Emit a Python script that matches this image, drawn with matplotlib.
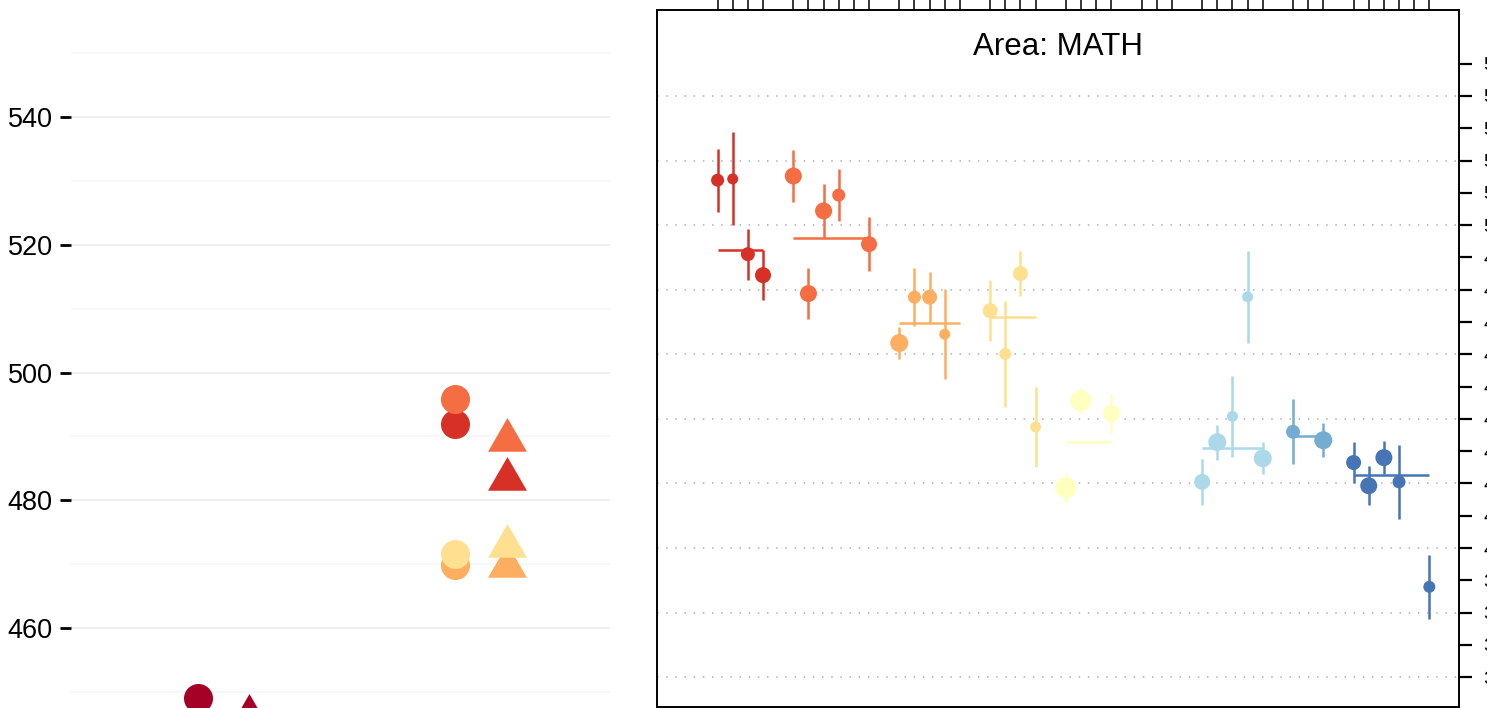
import numpy as np
import matplotlib
matplotlib.use('Agg')
import matplotlib.pyplot as plt
from matplotlib.path import Path

plt.rcParams['font.family'] = ['Liberation Sans', 'DejaVu Sans']

############################################################################
#                     data: left panel (two shapes per colour)
############################################################################

left_colors   = ['#A50026', '#D73027', '#F46D43', '#FDAE61', '#FEE090']
left_cat      = [0, 1, 1, 1, 1]
left_circle   = [449.1, 492.0, 495.9, 469.8, 471.6]
left_triangle = [446.3, 483.4, 489.5, 469.7, 472.9]

############################################################################
#                     data: right panel (Area: MATH)
############################################################################

grp_col   = ['#D73027', '#F46D43', '#FDAE61', '#FEE090', '#FFFFBF',
             '#E0F3F8', '#ABD9E9', '#74ADD1', '#4575B4']
grp_first = [0, 5, 12, 18, 23, 28, 32, 38, 42]
grp_last  = [3, 10, 16, 21, 26, 30, 36, 40, 47]
grp_line  = [492.2, 496.0, 469.7, 471.6, 432.8, None, 431.0, 434.6, 422.7]

pt_grp = [0, 0, 0, 0, 1, 1, 1, 1, 1, 2, 2, 2, 2, 3, 3, 3, 3, 4, 4, 4,
          6, 6, 6, 6, 6, 7, 7, 8, 8, 8, 8, 8]
pt_pos = [0, 1, 2, 3, 5, 6, 7, 8, 10, 12, 13, 14, 15, 18, 19, 20, 21,
          23, 24, 26, 32, 33, 34, 35, 36, 38, 40, 42, 43, 44, 45, 47]
pt_val = [513.9, 514.3, 491.0, 484.5, 515.2, 478.8, 504.4, 509.3, 494.1,
          463.5, 477.7, 477.7, 466.2, 473.5, 460.1, 485.0, 437.5,
          418.7, 445.6, 441.7, 420.5, 432.8, 440.8, 477.8, 427.8,
          436.0, 433.4, 426.5, 419.3, 428.0, 420.5, 388.0]
pt_err = [9.7, 14.4, 7.9, 7.7, 7.9, 7.9, 8.4, 8.0, 8.4,
          4.8, 8.9, 7.9, 14.0, 9.5, 16.3, 7.0, 12.5,
          4.4, 3.9, 6.1, 7.2, 5.4, 12.6, 14.2, 5.0,
          10.1, 5.3, 6.3, 6.1, 5.2, 11.5, 10.0]
pt_wt  = [13, 11, 14, 16, 17, 17, 17, 13, 16, 18, 13, 15, 11, 15, 12, 15, 11,
          21, 21, 17, 16, 18, 11, 11, 18, 14, 18, 15, 17, 17, 13, 12]

############################################################################
#                               figure
############################################################################

W, H = 1487, 708
fig = plt.figure(figsize=(W/100, H/100), dpi=100)

# ---- left panel ----
ax1 = fig.add_axes([70.8/W, 0, (609.6-70.8)/W, 1])
ax1.set_xlim(-0.592, 1.499)
ax1.set_ylim(447.48, 558.32)
for s in ax1.spines.values():
    s.set_visible(False)
ax1.set_xticks([])
ax1.set_yticks(np.arange(460, 541, 20))
ax1.set_yticks(np.arange(450, 551, 20), minor=True)
ax1.grid(True, which='major', axis='y', color='#EBEBEB', lw=1.1)
ax1.grid(True, which='minor', axis='y', color='#F5F5F5', lw=1.1)
ax1.tick_params(axis='y', which='major', length=8, width=2.0, pad=5.0,
                labelsize=19.5, colors='black')
ax1.tick_params(axis='y', which='minor', length=0)
ax1.set_axisbelow(True)

tri = Path([(0, 1), (0.866, -0.5), (-0.866, -0.5), (0, 1)],
           [Path.MOVETO, Path.LINETO, Path.LINETO, Path.CLOSEPOLY])
dodge = 0.1
for c, x, yc in zip(left_colors, left_cat, left_circle):
    ax1.plot(x - dodge, yc, 'o', ms=20.9, mec='none', color=c, clip_on=False)
for c, x, yt in zip(left_colors, left_cat, left_triangle):
    ax1.plot(x + dodge, yt, marker=tri, ms=32.4, mec='none', color=c,
             ls='none', clip_on=False)

# ---- right panel ----
ax2 = fig.add_axes([657/W, 1/H, (1458.7-657)/W, 697/H])
ax2.set_xlim(-4.0, 48.94)
ax2.set_ylim(350.8, 566.6)

for gy in np.arange(360, 541, 20):
    ax2.axhline(gy, color='#B0B0B0', lw=1.1, ls=(0, (1, 5)), zorder=0)

for g in range(len(grp_col)):
    if grp_line[g] is not None:
        ax2.hlines(grp_line[g], grp_first[g], grp_last[g], color=grp_col[g],
                   lw=1.8, zorder=2)

for g, x, v, e in zip(pt_grp, pt_pos, pt_val, pt_err):
    ax2.vlines(x, v - e, v + e, color=grp_col[g], lw=1.8, zorder=2)

ax2.scatter(pt_pos, pt_val, s=(np.array(pt_wt)*0.72)**2,
            c=[grp_col[g] for g in pt_grp], edgecolors='none', zorder=3)

ticks_x = []
for a, b in zip(grp_first, grp_last):
    ticks_x += list(range(a, b + 1))
ax2.xaxis.tick_top()
ax2.set_xticks(ticks_x)
ax2.tick_params(axis='x', length=9.4, width=1.1, labeltop=False)
ax2.yaxis.tick_right()
ax2.set_yticks(np.arange(360, 551, 10))
ax2.tick_params(axis='y', length=9.4, width=1.6, pad=8.6, labelsize=14)
for s in ax2.spines.values():
    s.set_linewidth(1.4)

ax2.text(0.5, (707-55)/697, 'Area: MATH', transform=ax2.transAxes,
         ha='center', va='baseline', fontsize=22.5)

fig.savefig('out.png', dpi=100)
